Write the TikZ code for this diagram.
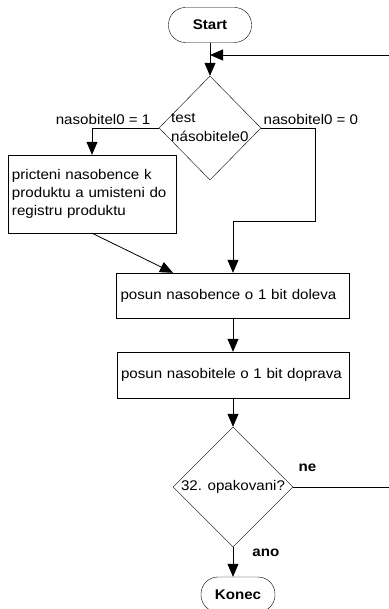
\documentclass[tikz,border=0pt]{standalone}
\usepackage{fontspec}
\setmainfont{Liberation Sans}[FakeStretch=1.08]
\usetikzlibrary{positioning, arrows.meta, calc, shapes.geometric}
\newcommand{\flowfont}{\fontsize{14}{18}\selectfont}

\begin{document}
\begin{tikzpicture}[
  x=1pt, y=-1pt,
  font=\flowfont,
  term/.style={draw, rounded corners=17pt, minimum height=35pt, inner sep=0pt,
               font=\flowfont\bfseries},
  proc/.style={draw, align=left, inner xsep=4pt, inner ysep=0pt},
  decide/.style={draw, diamond, inner sep=0pt},
  lbl/.style={inner sep=1pt},
  ar/.style={-{Triangle[length=13pt, width=11pt]}, line width=0.8pt},
]
  \useasboundingbox (0,0) rectangle (388,609);
  \node[term, minimum width=83pt] (start) at (210,25) {Start};
  \node[decide, minimum width=102pt, minimum height=104pt] (d1) at (210,128) {};
  \node[anchor=west, align=left, inner sep=0pt] (t1) at (171,128) {test\\[1pt]násobitele0};
  \node[proc, text width=160pt, minimum height=78pt] (b1) at (92,194)
    {pricteni nasobence k\\produktu a umisteni do\\registru produktu};
  \node[proc, text width=225pt, minimum height=45pt] (b2) at (233,295.5)
    {posun nasobence o 1 bit doleva};
  \node[proc, text width=224pt, minimum height=46pt] (b3) at (233,375)
    {posun nasobitele o 1 bit doprava};
  \node[decide, minimum width=120pt, minimum height=120pt] (d2) at (233,487) {32. opakovani?};
  \node[term, minimum width=74pt] (konec) at (238,594.5) {Konec};
  \coordinate (rt) at (393,55);

  \draw[ar] (start) -- (d1);
  \draw[ar] (d1.west) node[lbl, anchor=south east, xshift=-7pt, yshift=2pt] {nasobitel0 = 1}
    -| (b1.north);
  \draw[ar] (d1.east) node[lbl, anchor=south west, xshift=1pt, yshift=2pt] {nasobitel0 = 0}
    -- ++(54,0) |- ($(b2.north)+(0,-51)$) -- (b2.north);
  \draw[ar] (b1.south) -- ([xshift=-60pt]b2.north);
  \draw[ar] (b2) -- (b3);
  \draw[ar] (b3) -- (d2);
  \draw[ar] (d2.south) node[lbl, anchor=north west, xshift=18pt, font=\flowfont\bfseries] {ano}
    -- (d2.south |- konec.north);
  \draw[ar] (d2.east) node[lbl, anchor=south west, xshift=4pt, yshift=14pt, font=\flowfont\bfseries] {ne}
    -| (rt) -- (start.south |- rt);
\end{tikzpicture}
\end{document}
